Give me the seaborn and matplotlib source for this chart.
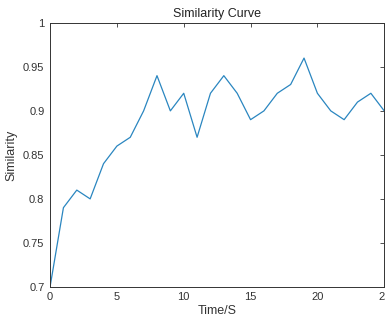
import numpy as np
import pandas as pd
import seaborn as sns
import matplotlib.pyplot as plt
from matplotlib.ticker import FuncFormatter

time_s = [0, 1, 2, 3, 4, 5, 6, 7, 8, 9, 10, 11, 12, 13, 14, 15, 16, 17, 18, 19, 20, 21, 22, 23, 24, 25]
similarity = [0.70, 0.79, 0.81, 0.80, 0.84, 0.86, 0.87, 0.90, 0.94, 0.90, 0.92, 0.87, 0.92,
              0.94, 0.92, 0.89, 0.90, 0.92, 0.93, 0.96, 0.92, 0.90, 0.89, 0.91, 0.92, 0.90]

df = pd.DataFrame({"Time/S": time_s, "Similarity": similarity})

sns.set_style("white")
plt.rcParams['font.family'] = ['Liberation Sans', 'DejaVu Sans']

fig = plt.figure(figsize=(3.85, 3.22), dpi=100)
ax = fig.add_axes([0.13, 0.109, 0.868, 0.82])

sns.lineplot(data=df, x="Time/S", y="Similarity", color="#2a86c0", linewidth=0.9, ax=ax)

ax.set_xlim(0, 25)
ax.set_ylim(0.7, 1.0)
ax.set_xticks([0, 5, 10, 15, 20, 25])
ax.set_yticks([0.7, 0.75, 0.8, 0.85, 0.9, 0.95, 1.0])
ax.yaxis.set_major_formatter(FuncFormatter(lambda v, p: ("%.2f" % v).rstrip("0").rstrip(".")))

ax.tick_params(direction="in", length=3, width=0.6, top=True, right=True,
               labelsize=8, colors="#333333", pad=4)
for s in ax.spines.values():
    s.set_color("#333333")
    s.set_linewidth(0.7)

ax.set_title("Similarity Curve", fontsize=9, pad=4, color="#222222")
ax.set_xlabel("Time/S", fontsize=9, labelpad=2, color="#333333")
ax.set_ylabel("Similarity", fontsize=9, labelpad=4, color="#333333")

fig.savefig("out.png", dpi=100)
